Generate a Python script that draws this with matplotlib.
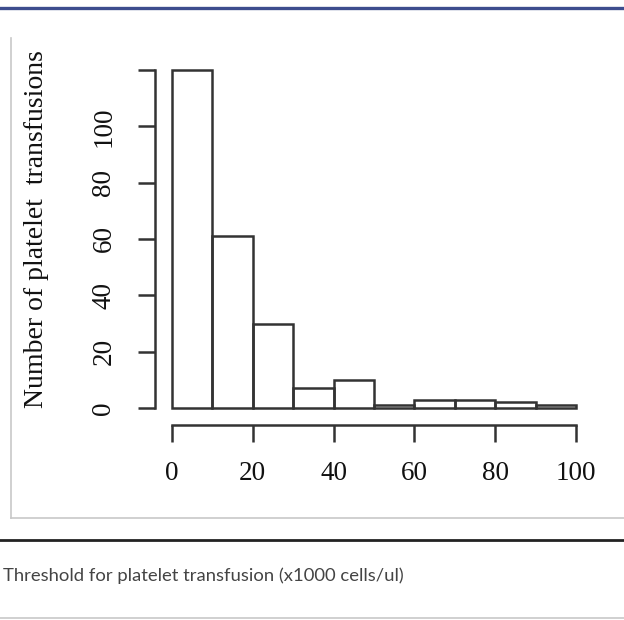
import numpy as np
import matplotlib
matplotlib.use("Agg")
import matplotlib.pyplot as plt
from matplotlib.lines import Line2D

# histogram bins (x1000 cells/ul) and counts
bin_edges = [0, 10, 20, 30, 40, 50, 60, 70, 80, 90, 100]
counts = [120, 61, 30, 7, 10, 1, 3, 3, 2, 1]
x_ticks = [0, 20, 40, 60, 80, 100]
y_ticks = [0, 20, 40, 60, 80, 100, 120]
y_tick_labels = ["0", "20", "40", "60", "80", "100", ""]
y_label = "Number of platelet  transfusions"
caption = "Threshold for platelet transfusion (x1000 cells/ul)"

W, H = 624, 620
fig = plt.figure(figsize=(W / 100, H / 100), dpi=100)
fig.patch.set_facecolor("white")

def px(x, y):
    # pixel coords (from top-left) to figure fraction
    return x / W, 1 - y / H

# axes placed so data 0..100 / 0..120 map onto the plot area
x0, y0 = px(172, 408)
x1, y1 = px(576, 70)
ax = fig.add_axes([x0, y0, x1 - x0, y1 - y0])
ax.set_xlim(0, 100)
ax.set_ylim(0, 120)
ax.patch.set_alpha(0)

edge = "#333333"
lw = 1.8
ax.bar(bin_edges[:-1], counts, width=10, align="edge", fill=False,
       edgecolor=edge, linewidth=lw, clip_on=False)

serif = ["Liberation Serif", "DejaVu Serif"]
for s in ["top", "right"]:
    ax.spines[s].set_visible(False)
for s in ["left", "bottom"]:
    ax.spines[s].set_color(edge)
    ax.spines[s].set_linewidth(lw)
    ax.spines[s].set_position(("outward", 12))
ax.spines["left"].set_bounds(0, 120)
ax.spines["bottom"].set_bounds(0, 100)

ax.set_xticks(x_ticks)
ax.set_xticklabels([str(v) for v in x_ticks], fontfamily=serif, fontsize=19.5,
                   color="#111111")
ax.set_yticks(y_ticks)
ax.set_yticklabels(y_tick_labels, fontfamily=serif, fontsize=19.5,
                   rotation=90, va="center", color="#111111")
ax.tick_params(axis="both", length=12, width=lw, color=edge)
ax.tick_params(axis="x", pad=14)
ax.tick_params(axis="y", pad=16)

fig.text(37 / W, 1 - 229 / H, y_label, rotation=90, ha="center", va="center",
         fontfamily=serif, fontsize=20, color="#111111")

# frame and page rules around the figure
gray = "#c8c8c8"
fig.add_artist(Line2D([11 / W, 11 / W], [1 - 38 / H, 1 - 518 / H],
                      transform=fig.transFigure, color=gray, lw=1.2))
fig.add_artist(Line2D([11 / W, 1], [1 - 518 / H, 1 - 518 / H],
                      transform=fig.transFigure, color=gray, lw=1.2))
fig.add_artist(Line2D([0, 1], [1 - 8 / H, 1 - 8 / H],
                      transform=fig.transFigure, color="#3d4d8e", lw=2.4))
fig.add_artist(Line2D([0, 1], [1 - 540 / H, 1 - 540 / H],
                      transform=fig.transFigure, color="#222222", lw=2.0))
fig.add_artist(Line2D([0, 1], [1 - 618 / H, 1 - 618 / H],
                      transform=fig.transFigure, color=gray, lw=1.2))

fig.text(3 / W, 1 - 576 / H, caption, ha="left", va="center",
         fontfamily=["Lato", "DejaVu Sans"], fontweight="normal",
         fontsize=13.3, color="#444444")

fig.savefig("out.png", dpi=100, facecolor="white")
